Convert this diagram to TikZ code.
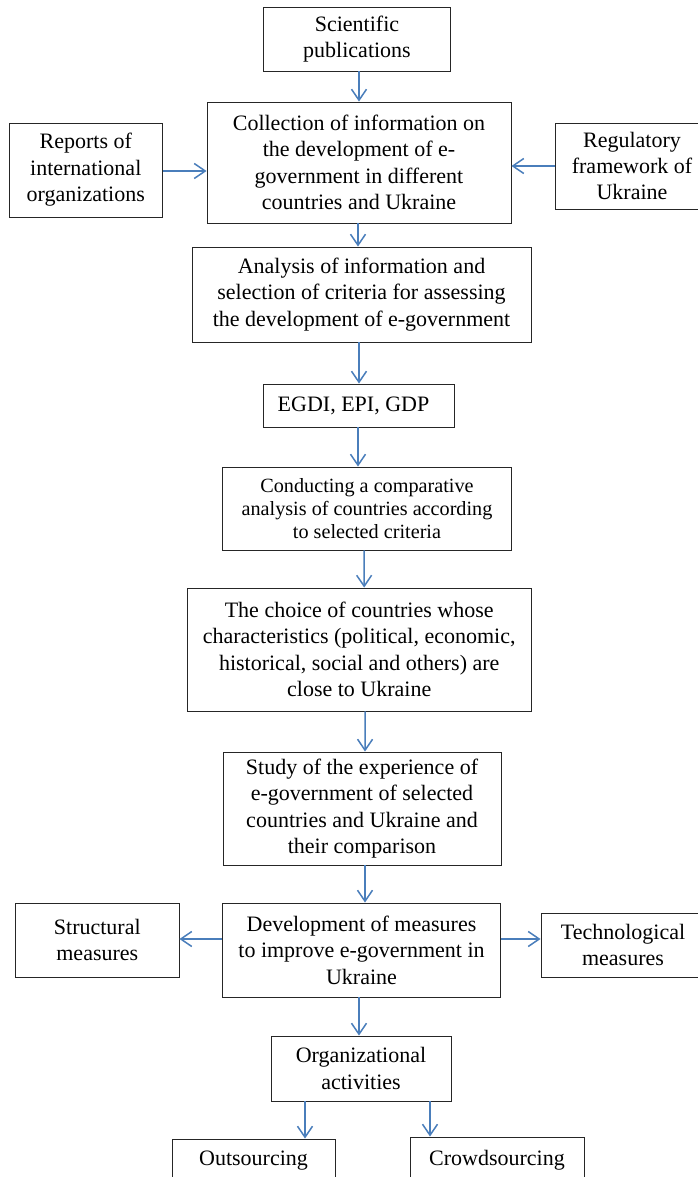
\documentclass[tikz,border=0pt]{standalone}
\usepackage{fontspec}
\setmainfont{Liberation Serif}
\usetikzlibrary{arrows.meta}
\definecolor{arrblue}{HTML}{4A7EBB}
\tikzset{
  box/.style={draw=black!85, line width=0.9pt, align=center, inner sep=0pt,
    font=\fontsize{22}{26.4}\selectfont},
  smallbox/.style={box, font=\fontsize{20.2}{22.8}\selectfont},
  arr/.style={draw=arrblue, line width=1.5pt,
    -{Straight Barb[length=11pt,width=15pt,line width=1.5pt]}}
}
\begin{document}
\begin{tikzpicture}[x=1pt,y=-1pt]
\useasboundingbox (0,0) rectangle (698,1177);
\clip (0,0) rectangle (698,1177);
\fill[white] (0,0) rectangle (698,1177);

\node[box, minimum width=187pt, minimum height=64pt] (sci) at (357,39) {Scientific\\publications};
\node[box, minimum width=304pt, minimum height=121pt] (coll) at (359,162.5) {Collection of information on\\the development of e-\\government in different\\countries and Ukraine};
\node[box, minimum width=153.5pt, minimum height=94pt] (rep) at (85.75,170) {Reports of\\international\\organizations};
\node[box, minimum width=154pt, minimum height=86pt] (reg) at (632,166) {Regulatory\\framework of\\Ukraine};
\node[box, minimum width=339pt, minimum height=95pt] (anal) at (361.5,294.5) {Analysis of information and\\selection of criteria for assessing\\the development of e-government};
\node[box, minimum width=191pt, minimum height=43pt] (egdi) at (358.5,405.5) {EGDI, EPI, GDP\hspace*{10pt}};
\node[smallbox, minimum width=289pt, minimum height=83pt] (cond) at (367,508.5) {Conducting a comparative\\analysis of countries according\\to selected criteria};
\node[box, minimum width=343.6pt, minimum height=123pt] (choice) at (359.2,649.5) {The choice of countries whose\\characteristics (political, economic,\\historical, social and others) are\\close to Ukraine};
\node[box, minimum width=278pt, minimum height=113pt] (study) at (362,808.5) {Study of the experience of\\e-government of selected\\countries and Ukraine and\\their comparison};
\node[box, minimum width=278pt, minimum height=94pt] (dev) at (361.5,950) {Development of measures\\to improve e-government in\\Ukraine};
\node[box, minimum width=163.4pt, minimum height=74pt] (struct) at (97.3,940) {Structural\\measures};
\node[box, minimum width=164pt, minimum height=64pt] (tech) at (623,945) {Technological\\measures};
\node[box, minimum width=180pt, minimum height=65pt] (org) at (361,1068.5) {Organizational\\activities};
\node[box, minimum width=163pt, minimum height=44pt] (out) at (253.5,1161) {Outsourcing};
\node[box, minimum width=174pt, minimum height=46pt] (crowd) at (497,1160) {Crowdsourcing};

\draw[arr] ([xshift=2pt]sci.south) -- (coll.north);
\draw[arr] ([yshift=-1pt]rep.east) -- ([yshift=-8.5pt]coll.west);
\draw[arr] (reg.west) -- ([yshift=-3.5pt]coll.east);
\draw[arr] ([xshift=-1pt]coll.south) -- ([xshift=-3.5pt]anal.north);
\draw[arr] ([xshift=-2.5pt]anal.south) -- ([xshift=0.5pt]egdi.north);
\draw[arr] ([xshift=-0.5pt]egdi.south) -- ([xshift=-9pt]cond.north);
\draw[arr] ([xshift=-3pt]cond.south) -- ([xshift=5pt]choice.north);
\draw[arr] ([xshift=6pt]choice.south) -- ([xshift=3pt]study.north);
\draw[arr] ([xshift=3pt]study.south) -- ([xshift=3.5pt]dev.north);
\draw[arr] ([yshift=11pt]dev.west) -- ([yshift=1pt]struct.east);
\draw[arr] ([yshift=11pt]dev.east) -- ([yshift=6pt]tech.west);
\draw[arr] ([xshift=-2.5pt]dev.south) -- ([xshift=-2pt]org.north);
\draw[arr] ([xshift=-56pt]org.south) -- ([xshift=51.5pt]out.north);
\draw[arr] ([xshift=69pt]org.south) -- ([xshift=-67pt]crowd.north);
\end{tikzpicture}
\end{document}
